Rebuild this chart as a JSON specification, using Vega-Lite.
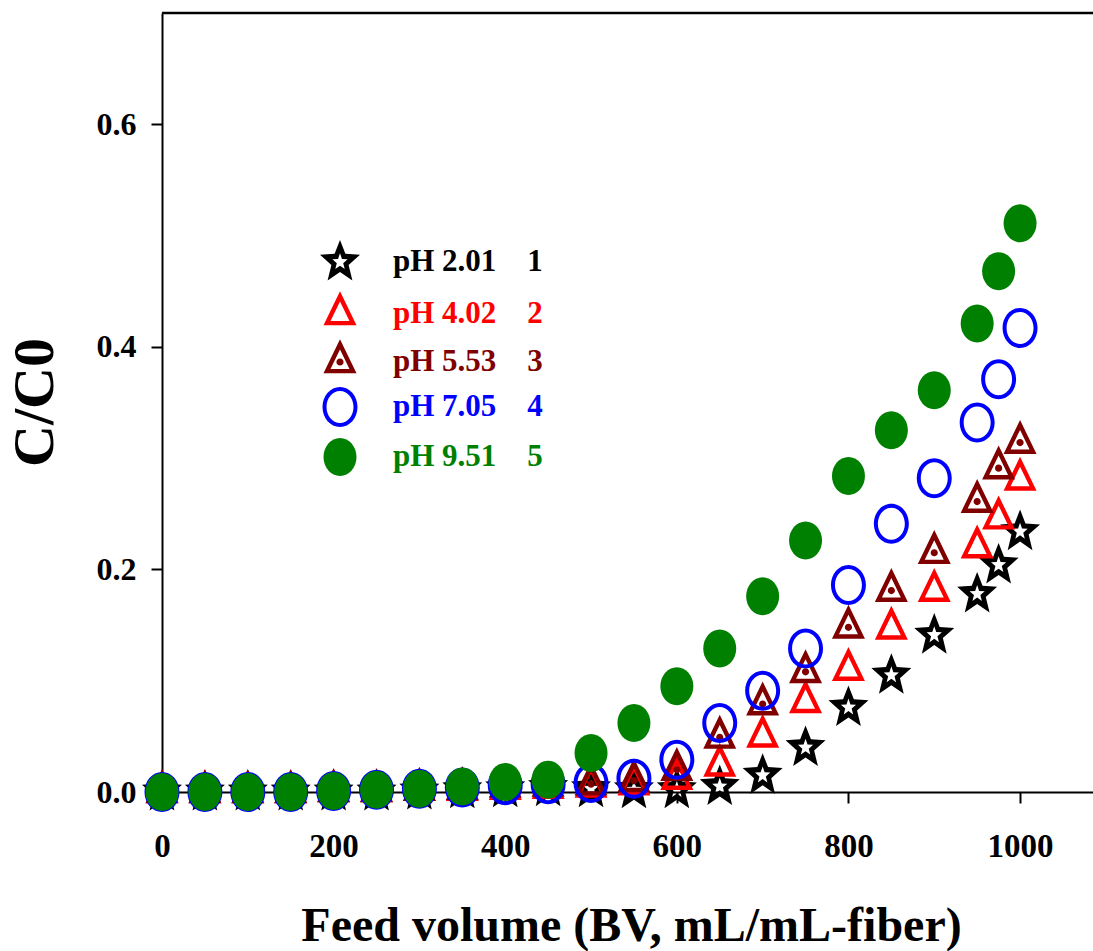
{
  "$schema": "https://vega.github.io/schema/vega-lite/v6.json",
  "width": 931,
  "height": 779,
  "autosize": {"type": "none"},
  "padding": {"left": 162, "top": 13, "right": 0, "bottom": 159},
  "background": "white",
  "config": {
    "view": {"stroke": null},
    "axis": {
      "grid": false,
      "domainColor": "black",
      "domainWidth": 2,
      "tickColor": "black",
      "tickWidth": 2,
      "tickSize": 11,
      "labelFont": "Liberation Serif",
      "labelFontWeight": "bold",
      "labelColor": "black",
      "titleFont": "Liberation Serif",
      "titleFontWeight": "bold",
      "titleColor": "black"
    }
  },
  "layer": [
    {
      "data": {
        "values": [
          {"ph": "pH 2.01", "bv": 0, "c": 0}, {"ph": "pH 2.01", "bv": 50, "c": 0}, {"ph": "pH 2.01", "bv": 100, "c": 0}, {"ph": "pH 2.01", "bv": 150, "c": 0}, {"ph": "pH 2.01", "bv": 200, "c": 0}, {"ph": "pH 2.01", "bv": 250, "c": 0}, {"ph": "pH 2.01", "bv": 300, "c": 0.001}, {"ph": "pH 2.01", "bv": 350, "c": 0.002}, {"ph": "pH 2.01", "bv": 400, "c": 0.003}, {"ph": "pH 2.01", "bv": 450, "c": 0.004}, {"ph": "pH 2.01", "bv": 500, "c": 0.003}, {"ph": "pH 2.01", "bv": 550, "c": 0.002}, {"ph": "pH 2.01", "bv": 600, "c": 0.002}, {"ph": "pH 2.01", "bv": 650, "c": 0.005}, {"ph": "pH 2.01", "bv": 700, "c": 0.015}, {"ph": "pH 2.01", "bv": 750, "c": 0.04}, {"ph": "pH 2.01", "bv": 800, "c": 0.076}, {"ph": "pH 2.01", "bv": 850, "c": 0.105}, {"ph": "pH 2.01", "bv": 900, "c": 0.141}, {"ph": "pH 2.01", "bv": 950, "c": 0.178}, {"ph": "pH 2.01", "bv": 975, "c": 0.204}, {"ph": "pH 2.01", "bv": 1000, "c": 0.234},
          {"ph": "pH 4.02", "bv": 0, "c": 0}, {"ph": "pH 4.02", "bv": 50, "c": 0}, {"ph": "pH 4.02", "bv": 100, "c": 0}, {"ph": "pH 4.02", "bv": 150, "c": 0}, {"ph": "pH 4.02", "bv": 200, "c": 0.001}, {"ph": "pH 4.02", "bv": 250, "c": 0.001}, {"ph": "pH 4.02", "bv": 300, "c": 0.002}, {"ph": "pH 4.02", "bv": 350, "c": 0.002}, {"ph": "pH 4.02", "bv": 400, "c": 0.003}, {"ph": "pH 4.02", "bv": 450, "c": 0.004}, {"ph": "pH 4.02", "bv": 500, "c": 0.005}, {"ph": "pH 4.02", "bv": 550, "c": 0.007}, {"ph": "pH 4.02", "bv": 600, "c": 0.012}, {"ph": "pH 4.02", "bv": 650, "c": 0.024}, {"ph": "pH 4.02", "bv": 700, "c": 0.05}, {"ph": "pH 4.02", "bv": 750, "c": 0.081}, {"ph": "pH 4.02", "bv": 800, "c": 0.11}, {"ph": "pH 4.02", "bv": 850, "c": 0.147}, {"ph": "pH 4.02", "bv": 900, "c": 0.181}, {"ph": "pH 4.02", "bv": 950, "c": 0.22}, {"ph": "pH 4.02", "bv": 975, "c": 0.246}, {"ph": "pH 4.02", "bv": 1000, "c": 0.281},
          {"ph": "pH 5.53", "bv": 0, "c": 0}, {"ph": "pH 5.53", "bv": 50, "c": 0}, {"ph": "pH 5.53", "bv": 100, "c": 0}, {"ph": "pH 5.53", "bv": 150, "c": 0}, {"ph": "pH 5.53", "bv": 200, "c": 0.001}, {"ph": "pH 5.53", "bv": 250, "c": 0.001}, {"ph": "pH 5.53", "bv": 300, "c": 0.002}, {"ph": "pH 5.53", "bv": 350, "c": 0.003}, {"ph": "pH 5.53", "bv": 400, "c": 0.005}, {"ph": "pH 5.53", "bv": 450, "c": 0.006}, {"ph": "pH 5.53", "bv": 500, "c": 0.007}, {"ph": "pH 5.53", "bv": 550, "c": 0.01}, {"ph": "pH 5.53", "bv": 600, "c": 0.02}, {"ph": "pH 5.53", "bv": 650, "c": 0.049}, {"ph": "pH 5.53", "bv": 700, "c": 0.079}, {"ph": "pH 5.53", "bv": 750, "c": 0.108}, {"ph": "pH 5.53", "bv": 800, "c": 0.148}, {"ph": "pH 5.53", "bv": 850, "c": 0.181}, {"ph": "pH 5.53", "bv": 900, "c": 0.215}, {"ph": "pH 5.53", "bv": 950, "c": 0.261}, {"ph": "pH 5.53", "bv": 975, "c": 0.291}, {"ph": "pH 5.53", "bv": 1000, "c": 0.314},
          {"ph": "pH 7.05", "bv": 0, "c": 0}, {"ph": "pH 7.05", "bv": 50, "c": 0}, {"ph": "pH 7.05", "bv": 100, "c": 0}, {"ph": "pH 7.05", "bv": 150, "c": 0}, {"ph": "pH 7.05", "bv": 200, "c": 0.001}, {"ph": "pH 7.05", "bv": 250, "c": 0.002}, {"ph": "pH 7.05", "bv": 300, "c": 0.003}, {"ph": "pH 7.05", "bv": 350, "c": 0.004}, {"ph": "pH 7.05", "bv": 400, "c": 0.006}, {"ph": "pH 7.05", "bv": 450, "c": 0.007}, {"ph": "pH 7.05", "bv": 500, "c": 0.008}, {"ph": "pH 7.05", "bv": 550, "c": 0.012}, {"ph": "pH 7.05", "bv": 600, "c": 0.029}, {"ph": "pH 7.05", "bv": 650, "c": 0.062}, {"ph": "pH 7.05", "bv": 700, "c": 0.091}, {"ph": "pH 7.05", "bv": 750, "c": 0.129}, {"ph": "pH 7.05", "bv": 800, "c": 0.186}, {"ph": "pH 7.05", "bv": 850, "c": 0.241}, {"ph": "pH 7.05", "bv": 900, "c": 0.282}, {"ph": "pH 7.05", "bv": 950, "c": 0.332}, {"ph": "pH 7.05", "bv": 975, "c": 0.371}, {"ph": "pH 7.05", "bv": 1000, "c": 0.417},
          {"ph": "pH 9.51", "bv": 0, "c": 0}, {"ph": "pH 9.51", "bv": 50, "c": 0}, {"ph": "pH 9.51", "bv": 100, "c": 0}, {"ph": "pH 9.51", "bv": 150, "c": 0}, {"ph": "pH 9.51", "bv": 200, "c": 0.001}, {"ph": "pH 9.51", "bv": 250, "c": 0.002}, {"ph": "pH 9.51", "bv": 300, "c": 0.003}, {"ph": "pH 9.51", "bv": 350, "c": 0.005}, {"ph": "pH 9.51", "bv": 400, "c": 0.009}, {"ph": "pH 9.51", "bv": 450, "c": 0.011}, {"ph": "pH 9.51", "bv": 500, "c": 0.035}, {"ph": "pH 9.51", "bv": 550, "c": 0.062}, {"ph": "pH 9.51", "bv": 600, "c": 0.095}, {"ph": "pH 9.51", "bv": 650, "c": 0.129}, {"ph": "pH 9.51", "bv": 700, "c": 0.176}, {"ph": "pH 9.51", "bv": 750, "c": 0.226}, {"ph": "pH 9.51", "bv": 800, "c": 0.284}, {"ph": "pH 9.51", "bv": 850, "c": 0.325}, {"ph": "pH 9.51", "bv": 900, "c": 0.361}, {"ph": "pH 9.51", "bv": 950, "c": 0.421}, {"ph": "pH 9.51", "bv": 975, "c": 0.468}, {"ph": "pH 9.51", "bv": 1000, "c": 0.511}
        ]
      },
      "mark": {"type": "point", "filled": true, "size": 1600, "strokeWidth": 0, "opacity": 1},
      "encoding": {
        "x": {
          "field": "bv",
          "type": "quantitative",
          "scale": {"domain": [0, 1085], "nice": false, "zero": false},
          "axis": {
            "values": [0, 200, 400, 600, 800, 1000],
            "format": "d",
            "labelFontSize": 33,
            "labelBaseline": "alphabetic",
            "labelPadding": 53,
            "labelFlush": false,
            "labelOverlap": false,
            "title": "Feed volume (BV, mL/mL-fiber)",
            "titleFontSize": 48,
            "titleBaseline": "alphabetic",
            "titleX": 469,
            "titleY": 148
          }
        },
        "y": {
          "field": "c",
          "type": "quantitative",
          "scale": {"domain": [0, 0.7], "nice": false},
          "axis": {
            "values": [0, 0.2, 0.4, 0.6],
            "format": ".1f",
            "labelFontSize": 32,
            "labelPadding": 15,
            "title": "C/C0",
            "titleFontSize": 58,
            "titleAngle": -90,
            "titleBaseline": "alphabetic",
            "titleX": -110,
            "titleY": 389
          }
        },
        "color": {
          "field": "ph",
          "type": "nominal",
          "scale": {
            "domain": ["pH 2.01", "pH 4.02", "pH 5.53", "pH 7.05", "pH 9.51"],
            "range": ["#000000", "#ff0000", "#800000", "#0000ff", "#008000"]
          },
          "legend": {
            "title": null,
            "orient": "none",
            "legendX": 158,
            "legendY": 229,
            "symbolSize": 1600,
            "symbolStrokeWidth": 0,
            "symbolOpacity": 1,
            "rowPadding": 10,
            "labelOffset": 33,
            "labelFont": "Liberation Serif",
            "labelFontWeight": "bold",
            "labelFontSize": 31,
            "labelLimit": 0,
            "labelExpr": "datum.label + '\u00a0\u00a0\u00a0\u00a0' + (indexof(['pH 2.01','pH 4.02','pH 5.53','pH 7.05','pH 9.51'], datum.label) + 1)",
            "encode": {"labels": {"update": {"fill": {"scale": "color", "field": "value"}}}}
          }
        },
        "shape": {
          "field": "ph",
          "type": "nominal",
          "scale": {
            "domain": ["pH 2.01", "pH 4.02", "pH 5.53", "pH 7.05", "pH 9.51"],
            "range": [
              "M0,-1.1L0.27,-0.41L1,-0.36L0.43,0.15L0.62,0.93L0,0.5L-0.62,0.93L-0.43,0.15L-1,-0.36L-0.27,-0.41ZM0,-0.44L-0.099,-0.15L-0.38,-0.136L-0.16,0.057L-0.236,0.356L0,0.185L0.236,0.356L0.16,0.057L0.38,-0.136L0.099,-0.15Z",
              "M0,-1.133L0.825,0.567L-0.825,0.567ZM0,-0.629L-0.474,0.347L0.474,0.347Z",
              "M0,-1.133L0.825,0.567L-0.825,0.567ZM0,-0.629L-0.474,0.347L0.474,0.347ZM-0.18,0A0.18,0.18,0,1,1,0.18,0A0.18,0.18,0,1,1,-0.18,0Z",
              "M0,-1A0.875,1,0,1,1,0,1A0.875,1,0,1,1,0,-1ZM0,-0.8A0.675,0.8,0,1,0,0,0.8A0.675,0.8,0,1,0,0,-0.8Z",
              "M0,-0.95A0.825,0.95,0,1,1,0,0.95A0.825,0.95,0,1,1,0,-0.95Z"
            ]
          },
          "legend": {
            "title": null,
            "orient": "none",
            "legendX": 158,
            "legendY": 229,
            "symbolSize": 1600,
            "symbolStrokeWidth": 0,
            "symbolOpacity": 1,
            "rowPadding": 10,
            "labelOffset": 33,
            "labelFont": "Liberation Serif",
            "labelFontWeight": "bold",
            "labelFontSize": 31,
            "labelLimit": 0,
            "labelExpr": "datum.label + '\u00a0\u00a0\u00a0\u00a0' + (indexof(['pH 2.01','pH 4.02','pH 5.53','pH 7.05','pH 9.51'], datum.label) + 1)",
            "encode": {"labels": {"update": {"fill": {"scale": "color", "field": "value"}}}}
          }
        }
      }
    },
    {
      "data": {"values": [{}]},
      "mark": {"type": "rule", "color": "black", "strokeWidth": 2.5},
      "encoding": {"y": {"datum": 0.7, "type": "quantitative"}}
    }
  ]
}
